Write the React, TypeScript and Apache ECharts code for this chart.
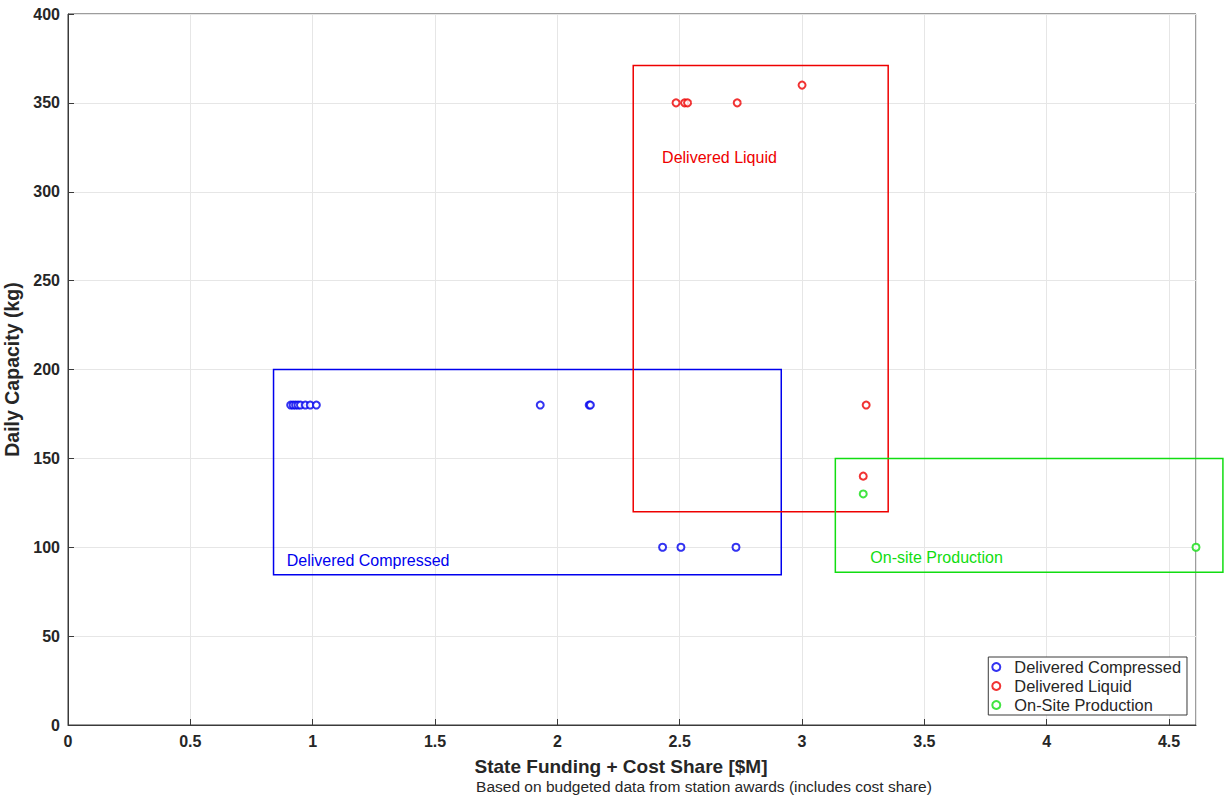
import React, { useEffect, useRef } from "react";
import * as echarts from "echarts";

// Station awards: state funding + cost share ($M) vs. daily capacity (kg)
const compressedX = [0.91, 0.92, 0.93, 0.94, 0.95, 0.97, 0.99, 1.015, 1.93, 2.13, 2.135, 2.43, 2.505, 2.73];
const compressedY = [180, 180, 180, 180, 180, 180, 180, 180, 180, 180, 180, 100, 100, 100];

const liquidX = [2.485, 2.52, 2.532, 2.735, 3.0, 3.262, 3.25];
const liquidY = [350, 350, 350, 350, 360, 180, 140];

const onsiteX = [3.25, 4.61];
const onsiteY = [130, 100];

// Grouping boxes: [xMin, xMax, yMin, yMax], with label anchor [x, y]
const boxNames = ["Delivered Compressed", "Delivered Liquid", "On-site Production"];
const boxExtents = [
  [0.84, 2.915, 84.5, 200],
  [2.31, 3.352, 120, 371],
  [3.136, 4.72, 86, 150],
];
const boxLabelAt = [
  [0.894, 92.4],
  [2.428, 319],
  [3.279, 94],
];

const xTicks = { min: 0, max: 4.61, interval: 0.5 };
const yTicks = { min: 0, max: 400, interval: 50 };

const BLUE = "#0000ee";
const RED = "#ee0000";
const GREEN = "#11dd11";
const boxColors = [BLUE, RED, GREEN];
const FONT = "'Liberation Sans', Arial, Helvetica, sans-serif";

const pairs = (xs: number[], ys: number[]) => xs.map((x, i) => [x, ys[i]]);

export default function App() {
  const ref = useRef<HTMLDivElement>(null);

  useEffect(() => {
    if (!ref.current) return;
    const chart = echarts.init(ref.current, undefined, { renderer: "svg" });

    const scatterBase = {
      type: "scatter",
      symbol: "emptyCircle",
      symbolSize: 7,
      z: 5,
    };

    chart.setOption({
      animation: false,
      backgroundColor: "#ffffff",
      textStyle: { fontFamily: FONT },
      grid: {
        left: 68,
        right: 29,
        top: 14,
        bottom: 71,
        containLabel: false,
        outerBoundsMode: "none",
        show: true,
        borderColor: "#3a3a3a",
        borderWidth: 1,
        backgroundColor: "#ffffff",
      },
      xAxis: {
        type: "value",
        min: xTicks.min,
        max: xTicks.max,
        interval: xTicks.interval,
        axisLine: { show: true, onZero: false, lineStyle: { color: "#3a3a3a", width: 1 } },
        axisTick: { show: true, inside: true, length: 6, lineStyle: { color: "#3a3a3a" } },
        axisLabel: {
          showMaxLabel: false,
          color: "#262626",
          fontWeight: "bold",
          fontSize: 16,
          fontFamily: FONT,
          margin: 8,
        },
        splitLine: { show: true, lineStyle: { color: "#e6e6e6", width: 1 } },
      },
      yAxis: {
        type: "value",
        min: yTicks.min,
        max: yTicks.max,
        interval: yTicks.interval,
        name: "Daily Capacity (kg)",
        nameLocation: "middle",
        nameGap: 35,
        nameTextStyle: { fontWeight: "bold", fontSize: 19.5, color: "#262626", fontFamily: FONT },
        axisLine: { show: true, lineStyle: { color: "#3a3a3a", width: 1 } },
        axisTick: { show: true, inside: true, length: 6, lineStyle: { color: "#3a3a3a" } },
        axisLabel: {
          color: "#262626",
          fontWeight: "bold",
          fontSize: 16,
          fontFamily: FONT,
          margin: 8,
        },
        splitLine: { show: true, lineStyle: { color: "#e6e6e6", width: 1 } },
      },
      legend: {
        data: ["Delivered Compressed", "Delivered Liquid", "On-Site Production"],
        orient: "vertical",
        right: 38,
        bottom: 81,
        backgroundColor: "#ffffff",
        borderColor: "#3a3a3a",
        borderWidth: 1,
        borderRadius: 0,
        padding: [2, 6, 2, 3],
        itemGap: 3,
        itemWidth: 26,
        itemHeight: 8,
        textStyle: { fontSize: 16.4, color: "#262626", fontFamily: FONT },
      },
      graphic: [
        {
          type: "text",
          x: 621,
          y: 766,
          style: {
            text: "State Funding + Cost Share [$M]",
            font: `bold 19px ${FONT}`,
            fill: "#262626",
            textAlign: "center",
            textVerticalAlign: "middle",
          },
        },
        {
          type: "text",
          x: 704,
          y: 786,
          style: {
            text: "Based on budgeted data from station awards (includes cost share)",
            font: `15.5px ${FONT}`,
            fill: "#262626",
            textAlign: "center",
            textVerticalAlign: "middle",
          },
        },
      ],
      series: [
        {
          type: "custom",
          silent: true,
          clip: false,
          z: 3,
          data: boxExtents.map((b, i) => [...b, ...boxLabelAt[i], i]),
          encode: { x: [0, 1], y: [2, 3] },
          renderItem: (_params: any, api: any) => {
            const i = api.value(6);
            const tl = api.coord([api.value(0), api.value(3)]);
            const br = api.coord([api.value(1), api.value(2)]);
            const lp = api.coord([api.value(4), api.value(5)]);
            return {
              type: "group",
              children: [
                {
                  type: "rect",
                  shape: { x: tl[0], y: tl[1], width: br[0] - tl[0], height: br[1] - tl[1] },
                  style: { fill: "none", stroke: boxColors[i], lineWidth: 1.5 },
                },
                {
                  type: "text",
                  x: lp[0],
                  y: lp[1],
                  style: {
                    text: boxNames[i],
                    font: `16px ${FONT}`,
                    fill: boxColors[i],
                    textAlign: "left",
                    textVerticalAlign: "middle",
                  },
                },
              ],
            };
          },
        },
        {
          ...scatterBase,
          name: "Delivered Compressed",
          data: pairs(compressedX, compressedY),
          itemStyle: { color: BLUE, borderColor: BLUE, borderWidth: 2 },
        },
        {
          ...scatterBase,
          name: "Delivered Liquid",
          data: pairs(liquidX, liquidY),
          itemStyle: { color: RED, borderColor: RED, borderWidth: 2 },
        },
        {
          ...scatterBase,
          name: "On-Site Production",
          data: pairs(onsiteX, onsiteY),
          itemStyle: { color: GREEN, borderColor: GREEN, borderWidth: 2 },
        },
      ],
    });

    return () => chart.dispose();
  }, []);

  return <div ref={ref} style={{ width: 1225, height: 796, position: "absolute", left: 0, top: 0 }} />;
}
